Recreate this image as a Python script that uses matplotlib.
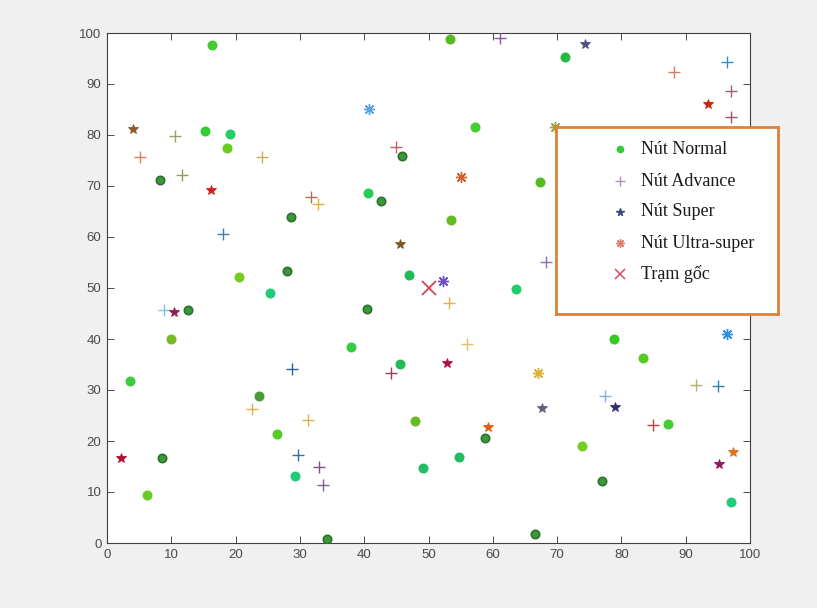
import matplotlib
matplotlib.use("Agg")
import matplotlib.pyplot as plt

# Node positions by node class
normal_x = [3.6, 6.2, 8.3, 8.5, 10.0, 12.6, 15.2, 16.3, 18.6, 19.2, 20.5, 23.6, 25.4, 26.4,
            28.0, 28.6, 29.3, 34.2, 37.9, 40.5, 40.6, 42.6, 45.5, 45.9, 46.9, 47.9, 49.2,
            53.3, 53.5, 54.8, 57.3, 58.8, 63.6, 66.5, 67.3, 71.2, 73.9, 77.0, 78.9, 83.3,
            87.3, 97.0]
normal_y = [31.8, 9.5, 71.2, 16.6, 40.0, 45.7, 80.8, 97.6, 77.4, 80.2, 52.2, 28.8, 49.0, 21.4,
            53.4, 64.0, 13.1, 0.7, 38.4, 45.9, 68.6, 67.0, 35.1, 75.8, 52.5, 23.9, 14.8,
            98.8, 63.4, 16.8, 81.6, 20.5, 49.9, 1.8, 70.8, 95.2, 19.0, 12.2, 40.0, 36.3,
            23.3, 8.0]

advance_x = [5.1, 8.8, 10.6, 11.7, 18.0, 22.5, 24.1, 28.8, 29.7, 31.2, 31.8, 32.8, 33.0, 33.6,
             44.1, 45.0, 53.2, 56.0, 61.1, 68.2, 77.4, 84.9, 88.2, 91.6, 95.0, 96.4, 97.0, 97.0]
advance_y = [75.6, 45.7, 79.9, 72.1, 60.5, 26.2, 75.6, 34.2, 17.3, 24.2, 67.8, 66.5, 15.0, 11.3,
             33.3, 77.6, 47.1, 39.0, 99.0, 55.0, 28.9, 23.1, 92.4, 31.0, 30.8, 94.4, 88.7, 83.6]

super_x = [2.1, 4.1, 10.4, 16.2, 45.5, 52.9, 59.3, 67.7, 74.4, 79.0, 93.4, 95.2, 97.4]
super_y = [16.6, 81.1, 45.2, 69.2, 58.7, 35.3, 22.7, 26.4, 97.8, 26.6, 86.1, 15.5, 17.8]

ultra_x = [40.8, 52.3, 55.0, 67.1, 69.6, 96.4]
ultra_y = [85.1, 51.4, 71.7, 33.3, 81.6, 40.9]

base_x = [50.0]
base_y = [50.0]

legend_labels = ["Nút Normal", "Nút Advance", "Nút Super", "Nút Ultra-super", "Trạm gốc"]

# Per-node colours
DK = "#2f6f2f"
normal_face = ["#3dcc3d", "#66cc22", "#3a9a3a", "#3a9a3a", "#77bb22", "#3a9a3a", "#33cc33",
               "#44cc33", "#66cc22", "#22cc66", "#77cc22", "#4a9a3a", "#22cc77", "#55cc22",
               "#3a9a3a", "#3a9a3a", "#22cc77", "#3a9a3a", "#33cc44", "#3a9a3a", "#22cc55",
               "#3a9a3a", "#22bb55", "#3a9a3a", "#22bb55", "#66bb22", "#22bb66", "#55bb22",
               "#66bb22", "#22bb66", "#44cc33", "#3a9a3a", "#22cc66", "#3a9a3a", "#55bb22",
               "#22bb44", "#77cc22", "#3a9a3a", "#33cc22", "#55cc22", "#44cc33", "#22cc77"]
normal_edge = [c if c != "#3a9a3a" else DK for c in normal_face]

advance_colors = ["#d98060", "#80c0e0", "#a0a060", "#90a050", "#4080b0", "#e0b050", "#c0b060",
                  "#306090", "#306f9f", "#e0b050", "#b07060", "#e0b040", "#805080", "#806090",
                  "#904060", "#c06060", "#e0b050", "#e0c070", "#9050a0", "#9070b0", "#80b0e0",
                  "#c04040", "#d08060", "#b0b070", "#3080b0", "#3090c0", "#a06070", "#a05070"]

super_colors = ["#b01030", "#8b5a2b", "#8b2252", "#d02020", "#7a5a20", "#b01040", "#e06010",
                "#606080", "#505080", "#303070", "#d02010", "#8b1a5a", "#e07020"]

ultra_colors = ["#60a0e0", "#7050c0", "#d06030", "#e0b030", "#a0a040", "#3090e0"]

ASTERISK = (8, 2, 0)

fig = plt.figure(figsize=(8.17, 6.08), dpi=100, facecolor="#f0f0f0")
ax = fig.add_axes([107 / 817, 65 / 608, 643 / 817, 510 / 608])
ax.set_facecolor("white")

for x, y, fc, ec in zip(normal_x, normal_y, normal_face, normal_edge):
    ax.plot(x, y, "o", ms=6, mfc=fc, mec=ec, mew=1.2, zorder=3)
for x, y, c in zip(advance_x, advance_y, advance_colors):
    ax.plot(x, y, "+", ms=9, mec=c, mew=1.0, zorder=3)
for x, y, c in zip(super_x, super_y, super_colors):
    ax.plot(x, y, "*", ms=7, mfc=c, mec=c, mew=0.6, zorder=3)
for x, y, c in zip(ultra_x, ultra_y, ultra_colors):
    ax.plot(x, y, marker=ASTERISK, ls="none", ms=8, mec=c, mew=1.0, zorder=3)
ax.plot(base_x, base_y, "x", ms=10, mec="#d04458", mew=1.3, zorder=3)

ax.set_xlim(0, 100)
ax.set_ylim(0, 100)
ax.set_xticks(range(0, 101, 10))
ax.set_yticks(range(0, 101, 10))
ax.tick_params(direction="in", length=5, width=0.7, top=True, right=True,
               colors="#4a4a4a", labelsize=9.5, pad=4)
for lab in ax.get_xticklabels() + ax.get_yticklabels():
    lab.set_fontfamily("Liberation Sans")
for s in ax.spines.values():
    s.set_color("#404040")
    s.set_linewidth(0.8)

# Legend box
lax = fig.add_axes([556 / 817, (608 - 314) / 608, 222 / 817, 187 / 608], zorder=5)
lax.set_xlim(0, 222)
lax.set_ylim(187, 0)
lax.set_xticks([])
lax.set_yticks([])
lax.set_facecolor("white")
for s in lax.spines.values():
    s.set_color("#d9833a")
    s.set_linewidth(2)

rows = [22, 54, 85, 116, 147]
lax.plot(64, rows[0], "o", ms=4.5, mfc="#33cc33", mec="#33cc33")
lax.plot(64, rows[1], "+", ms=7, mec="#b090c0", mew=1.0)
lax.plot(64, rows[2], "*", ms=5.5, mfc="#3a4a80", mec="#3a4a80")
lax.plot(64, rows[3], marker=ASTERISK, ls="none", ms=6, mec="#e08070", mew=1.0)
lax.plot(64, rows[4], "x", ms=7.5, mec="#d05060", mew=1.1)
for r, lbl in zip(rows, legend_labels):
    lax.text(85, r, lbl, fontsize=13, family="Liberation Serif", color="#1a1a1a",
             va="center", ha="left")

fig.savefig("out.png", dpi=100, facecolor=fig.get_facecolor())
